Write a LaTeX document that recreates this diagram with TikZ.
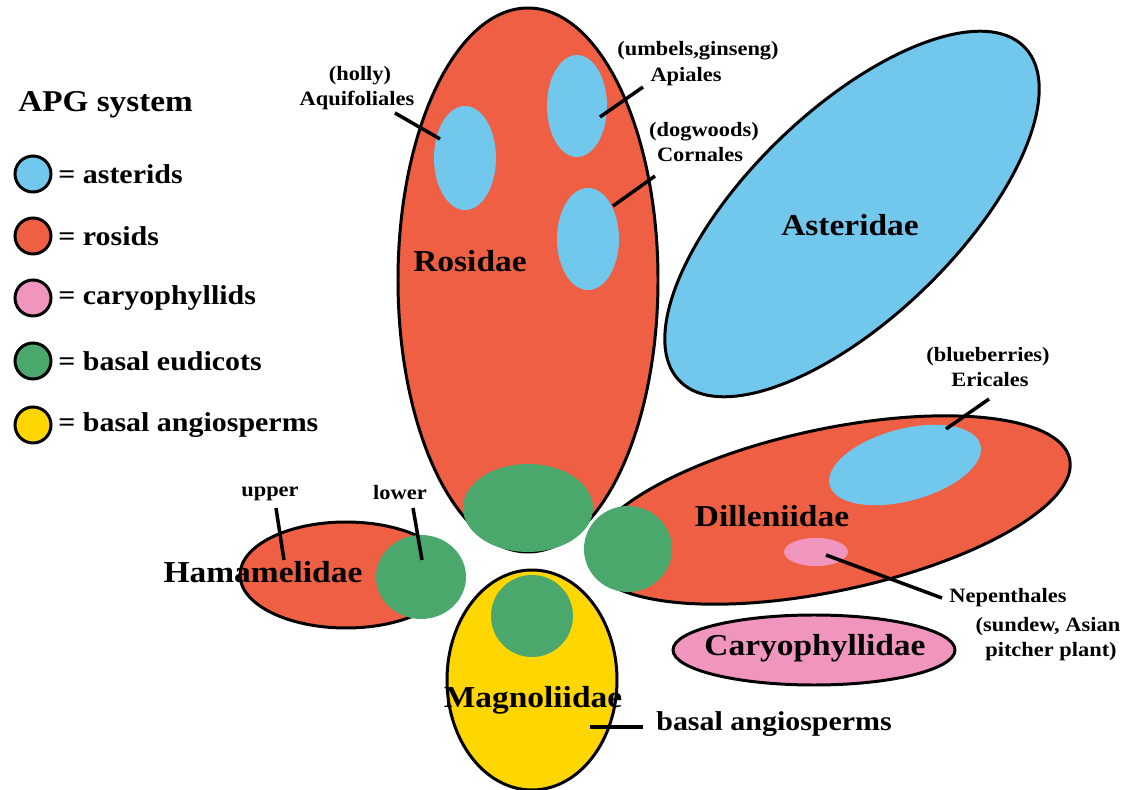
\documentclass[tikz,border=0pt]{standalone}
\usepackage{fontspec}
\setmainfont{Liberation Serif}[FakeStretch=1.1]
\definecolor{blueC}{HTML}{72C7EC}
\definecolor{redC}{HTML}{EE5F43}
\definecolor{pinkC}{HTML}{F096BE}
\definecolor{greenC}{HTML}{4AA86C}
\definecolor{yellowC}{HTML}{FFD600}
\begin{document}
\begin{tikzpicture}[x=0.02cm,y=-0.02cm,
  outl/.style={line width=1.7pt},
  lead/.style={line width=2pt},
  big/.style={font=\bfseries\fontsize{17.3}{20}\selectfont, inner sep=0pt},
  small/.style={font=\bfseries\fontsize{11.6}{13}\selectfont, inner sep=0pt},
  leg/.style={font=\bfseries\fontsize{15.5}{18}\selectfont, inner sep=0pt, anchor=west},
  title/.style={font=\bfseries\fontsize{17.2}{19}\selectfont, inner sep=0pt, anchor=west},
  legdot/.style={line width=1.7pt},
]
\useasboundingbox (0,0) rectangle (1147,790);

% ---------- Asteridae ----------
\filldraw[fill=blueC, outl, rotate around={44:(852,214)}] (852,214) ellipse [x radius=240, y radius=104];

% ---------- Rosidae ----------
\filldraw[fill=redC, outl] (528,280) ellipse [x radius=130, y radius=272];
\fill[blueC] (465,158) ellipse [x radius=31, y radius=52];
\fill[blueC] (577,106) ellipse [x radius=30, y radius=51];
\fill[blueC] (588,239) ellipse [x radius=31, y radius=51];
\fill[greenC] (528,508) ellipse [x radius=65, y radius=44];

% ---------- Dilleniidae ----------
\filldraw[fill=redC, outl, rotate around={12:(830,510)}] (830,510) ellipse [x radius=245, y radius=81];
\fill[greenC] (628,549) ellipse [x radius=44, y radius=43];
\fill[blueC, rotate around={15:(905,465)}] (905,465) ellipse [x radius=78, y radius=36];
\fill[pinkC] (816,552) ellipse [x radius=32, y radius=14];

% ---------- Hamamelidae ----------
\filldraw[fill=redC, outl] (346,575) ellipse [x radius=106, y radius=53];
\fill[greenC] (421,577) ellipse [x radius=45, y radius=42];

% ---------- Magnoliidae ----------
\filldraw[fill=yellowC, outl] (532,680) ellipse [x radius=85, y radius=110];
\fill[greenC] (532,616) circle [radius=41];

% ---------- Caryophyllidae ----------
\filldraw[fill=pinkC, outl] (814,650) ellipse [x radius=141, y radius=35];

% ---------- big labels ----------
\node[big] (rosL) at (470,261) {Rosidae};
\node[big] (astL) at (850,225) {Asteridae};
\node[big] (dilL) at (772,516) {Dilleniidae};
\node[big] (hamL) at (263,572) {Hamamelidae};
\node[big] (magL) at (533,700) {Magnoliidae};
\node[big] (carL) at (815,648) {Caryophyllidae};

% ---------- small labels ----------
\node[small] (holly) at (360,76) {(holly)};
\node[small] (aquif) at (357,100) {Aquifoliales};
\node[small] (umbel) at (698,51) {(umbels,ginseng)};
\node[small] (apial) at (686,77) {Apiales};
\node[small] (dogw) at (704,132) {(dogwoods)};
\node[small] (corn) at (700,155) {Cornales};
\node[small] (blueb) at (988,357) {(blueberries)};
\node[small] (eric) at (990,380) {Ericales};
\node[small] (nepe) at (1008,598) {Nepenthales};
\node[small] (sund) at (1048,627) {(sundew, Asian};
\node[small] (pitch) at (1051,652) {pitcher plant)};
\node[small] (upper) at (270,494) {upper};
\node[small] (lower) at (400,493) {lower};
\node[leg] (basal) at (656,724) {basal angiosperms};

% ---------- leader lines ----------
\coordinate (aqA) at (395,113); \coordinate (aqB) at (440,139);
\coordinate (apA) at (643,87);  \coordinate (apB) at (600,117);
\coordinate (coA) at (655,176); \coordinate (coB) at (613,206);
\coordinate (erA) at (989,399); \coordinate (erB) at (946,429);
\coordinate (neA) at (942,598); \coordinate (neB) at (826,555);
\coordinate (upA) at (276,508); \coordinate (upB) at (284,560);
\coordinate (loA) at (413,508); \coordinate (loB) at (422,560);
\coordinate (baA) at (643,727); \coordinate (baB) at (590,727);
\draw[lead] (aqA) -- (aqB);
\draw[lead] (apA) -- (apB);
\draw[lead] (coA) -- (coB);
\draw[lead] (erA) -- (erB);
\draw[lead] (neA) -- (neB);
\draw[lead] (upA) -- (upB);
\draw[lead] (loA) -- (loB);
\draw[lead] (baA) -- (baB);

% ---------- legend ----------
\node[title] (apg) at (18,105) {APG system};
\filldraw[fill=blueC, legdot] (33,174) circle [radius=18];
\filldraw[fill=redC, legdot] (33,236) circle [radius=18];
\filldraw[fill=pinkC, legdot] (33,298) circle [radius=18];
\filldraw[fill=greenC, legdot] (33,361) circle [radius=18];
\filldraw[fill=yellowC, legdot] (33,425) circle [radius=18];
\node[leg] (l1) at (58,174) {= asterids};
\node[leg] (l2) at (58,236) {= rosids};
\node[leg] (l3) at (58,298) {= caryophyllids};
\node[leg] (l4) at (58,361) {= basal eudicots};
\node[leg] (l5) at (58,425) {= basal angiosperms};
\end{tikzpicture}
\end{document}
